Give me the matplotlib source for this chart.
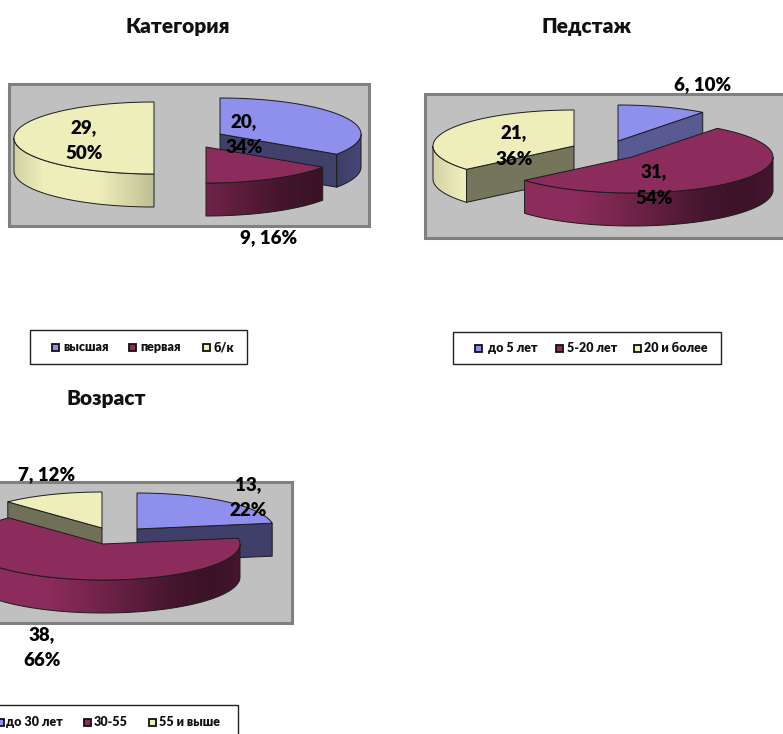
import numpy as np
import matplotlib
matplotlib.use("Agg")
import matplotlib.pyplot as plt
from matplotlib.patches import Polygon, Rectangle

plt.rcParams['font.family'] = ['Lato', 'Open Sans', 'DejaVu Sans']
plt.rcParams['font.weight'] = 'heavy'

# data
titles = ["Категория", "Педстаж", "Возраст"]
cat_labels = ["высшая", "первая", "б/к"]
cat_values = [20, 9, 29]
cat_percent = [34, 16, 50]
exp_labels = ["до 5 лет", "5-20 лет", "20 и более"]
exp_values = [6, 31, 21]
exp_percent = [10, 54, 36]
age_labels = ["до 30 лет", "30-55", "55 и выше"]
age_values = [13, 38, 7]
age_percent = [22, 66, 12]

colors = ["#8f8fee", "#8c2c5c", "#eeeebb"]
RY, DEPTH = 36, 33

# layout, in pixels of the picture
cat_centers = [(220, 134), (206, 147), (154, 138)]
exp_centers = [(618, 141), (632, 157), (574, 146)]
age_centers = [(137, 529), (103, 544), (102, 528)]
cat_rx = [141, 141, 140]
exp_rx = [140, 141, 141]
age_rx = [137, 137, 137]
cat_order = [2, 0, 1]
exp_order = [0, 2, 1]
age_order = [2, 0, 1]
cat_face = [0.45, 0.45, 0.5]
exp_face = [0.62, 0.45, 0.49]
age_face = [0.44, 0.45, 0.47]
cat_frame = (9, 84, 369, 226)
exp_frame = (425, 94, 800, 238)
age_frame = (-20, 482, 292, 623)
title_pos = [(178, 26), (587, 26), (106, 399)]
cat_text = [(244, 134.5), (269, 238), (84, 140.5)]
exp_text = [(703, 85), (654, 185), (514, 146)]
age_text = [(248, 497.5), (42, 647.5), (47, 475)]
cat_legend = [(30, 330, 247, 364), [55, 132, 206], [63, 140, 213], 347]
exp_legend = [(453, 332, 721, 364), [478, 559, 637], [488, 567, 644], 348]
age_legend = [(-10, 705, 238, 750), [0, 87, 152], [6, 94, 159], 722]

# how much a wall is lit, from the left to the right of the pie
shade_x = [0, 0.1, 0.3, 0.5, 0.75, 0.9, 1]
shade_y = [0.88, 1.0, 1.0, 0.8, 0.5, 0.42, 0.5]


def rim(cx, cy, rx, a, b):
    t = np.radians(np.linspace(a, b, 80))
    return cx + rx * np.sin(t), cy - RY * np.cos(t)


def draw_wall(ax, cx, cy, rx, a, b, color, z):
    a, b = max(a, 90), min(b, 270)
    if b <= a:
        return
    x, y = rim(cx, cy, rx, a, b)
    pts = np.r_[np.c_[x, y], np.c_[x[::-1], y[::-1] + DEPTH]]
    t = np.linspace(x.min(), x.max(), 120)
    light = np.interp((t - cx + rx) / (2 * rx), shade_x, shade_y)
    img = light[None, :, None] * np.array(matplotlib.colors.to_rgb(color))
    im = ax.imshow(np.clip(img, 0, 1), extent=(x.min(), x.max(), y.max() + DEPTH, y.min()),
                   aspect='auto', zorder=z, interpolation='bilinear')
    edge = Polygon(pts, closed=True, fc='none', ec='#1c1c1c', lw=0.7, zorder=z)
    ax.add_patch(edge)
    im.set_clip_path(edge)


def draw_face(ax, cx, cy, rx, angle, color, shade, z):
    x, y = rim(cx, cy, rx, angle, angle)
    pts = [(cx, cy), (x[0], y[0]), (x[0], y[0] + DEPTH), (cx, cy + DEPTH)]
    fc = np.array(matplotlib.colors.to_rgb(color)) * shade
    ax.add_patch(Polygon(pts, closed=True, fc=fc, ec='#1c1c1c', lw=0.7, zorder=z))


def draw_pie(ax, values, centers, radii, order, face, frame):
    x0, y0, x1, y1 = frame
    ax.add_patch(Rectangle((x0, y0), x1 - x0, y1 - y0, fc='#c0c0c0', ec='#808080', lw=2.2, zorder=1))
    ends = np.cumsum(values) / sum(values) * 360
    starts = np.r_[0, ends[:-1]]
    z = 2
    for i in order:
        cx, cy = centers[i]
        rx = radii[i]
        a, b = starts[i], ends[i]
        # the cut side shows when it looks towards the viewer
        if np.cos(np.radians(a - 90)) < -0.01:
            draw_face(ax, cx, cy, rx, a, colors[i], face[i], z)
        if np.cos(np.radians(b + 90)) < -0.01:
            draw_face(ax, cx, cy, rx, b, colors[i], face[i], z)
        draw_wall(ax, cx, cy, rx, a, b, colors[i], z + 0.1)
        x, y = rim(cx, cy, rx, a, b)
        top = np.r_[[(cx, cy)], np.c_[x, y]]
        ax.add_patch(Polygon(top, closed=True, fc=colors[i], ec='#1c1c1c', lw=0.7, zorder=z + 0.2))
        z += 1


def draw_legend(ax, labels, legend):
    (x0, y0, x1, y1), squares, starts, y = legend
    ax.add_patch(Rectangle((x0, y0), x1 - x0, y1 - y0, fc='white', ec='#222222', lw=1.0, zorder=20))
    for i, label in enumerate(labels):
        ax.add_patch(Rectangle((squares[i] - 3.5, y - 3.5), 7, 7, fc=colors[i], ec='#111111', lw=1.3, zorder=21))
        ax.text(starts[i], y, label, fontsize=9, color='#111111', ha='left', va='center', zorder=21)


def draw_labels(ax, values, percent, places):
    for v, p, (x, y) in zip(values, percent, places):
        sep = " " if v < 10 else "\n"
        ax.text(x, y, f"{v},{sep}{p}%", fontsize=13.5, color='black', ha='center', va='center',
                linespacing=1.68, zorder=30)


fig = plt.figure(figsize=(7.83, 7.34), dpi=100)
ax = fig.add_axes([0, 0, 1, 1])

draw_pie(ax, cat_values, cat_centers, cat_rx, cat_order, cat_face, cat_frame)
draw_pie(ax, exp_values, exp_centers, exp_rx, exp_order, exp_face, exp_frame)
draw_pie(ax, age_values, age_centers, age_rx, age_order, age_face, age_frame)

draw_labels(ax, cat_values, cat_percent, cat_text)
draw_labels(ax, exp_values, exp_percent, exp_text)
draw_labels(ax, age_values, age_percent, age_text)

draw_legend(ax, cat_labels, cat_legend)
draw_legend(ax, exp_labels, exp_legend)
draw_legend(ax, age_labels, age_legend)

for title, (x, y) in zip(titles, title_pos):
    ax.text(x, y, title, fontsize=15, color='#111111', ha='center', va='center')

ax.set_xlim(0, 783)
ax.set_ylim(734, 0)
ax.axis('off')

fig.savefig("out.png", dpi=100)
